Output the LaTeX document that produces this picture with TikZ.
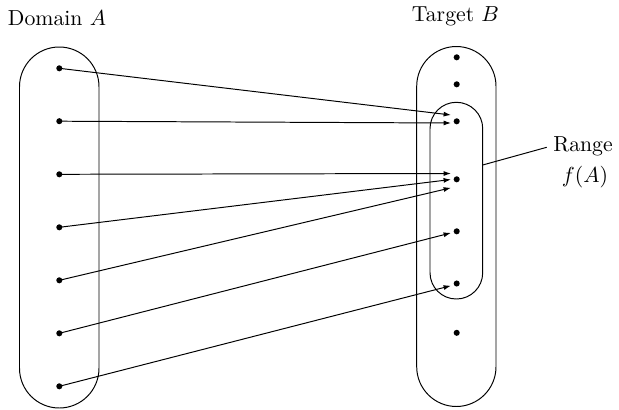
\documentclass[tikz,border=0pt]{standalone}
\usetikzlibrary{arrows.meta,calc}
\begin{document}
\begin{tikzpicture}[x=0.46pt,y=-0.46pt,
  dot/.style={circle,fill=black,inner sep=0pt,minimum size=2.8pt},
  setline/.style={line width=0.45pt},
  maparrow/.style={-{Latex[length=3.4pt,width=2.3pt]},line width=0.45pt}]
\useasboundingbox (0,0) rectangle (619,409);
% sets
\draw[setline,rounded corners=18.28pt] (19.5,47) rectangle (99,408);
\draw[setline,rounded corners=18.28pt] (416.7,46.5) rectangle (496,406.5);
\draw[setline,rounded corners=12.1pt] (430,102.3) rectangle (482.7,299);
\coordinate (rangeedge) at (482.7,165);
\coordinate (rangetip) at (546.7,147.3);
% labels
\node (domlabel) at (57,18) {Domain $A$};
\node (tarlabel) at (455.5,16) {Target $B$};
\node (range1) at (583,146) {Range};
\node (range2) at (585,177) {$f(A)$};
\draw[setline] (rangeedge) -- (rangetip);
% domain dots
\foreach \i/\y in {1/68.3,2/121.2,3/174.3,4/227.3,5/280.3,6/333.3,7/386.3}
  \node[dot] (a\i) at (59.3,\y) {};
% target dots
\foreach \i/\y in {1/57.3,2/84.3,3/121.3,4/179.3,5/231.3,6/283.5,7/332.8}
  \node[dot] (b\i) at (456.7,\y) {};
% mapping
\draw[maparrow] (a1.center) -- ($(b3)+(-5.7,-6.3)$);
\draw[maparrow] (a2.center) -- ($(b3)+(-5.7,1.7)$);
\draw[maparrow] (a3.center) -- ($(b4)+(-5.7,-5.8)$);
\draw[maparrow] (a4.center) -- ($(b4)+(-5.7,0.2)$);
\draw[maparrow] (a5.center) -- ($(b4)+(-5.7,8.5)$);
\draw[maparrow] (a6.center) -- ($(b5)+(-5.7,1.6)$);
\draw[maparrow] (a7.center) -- ($(b6)+(-5.7,2.2)$);
\end{tikzpicture}
\end{document}
